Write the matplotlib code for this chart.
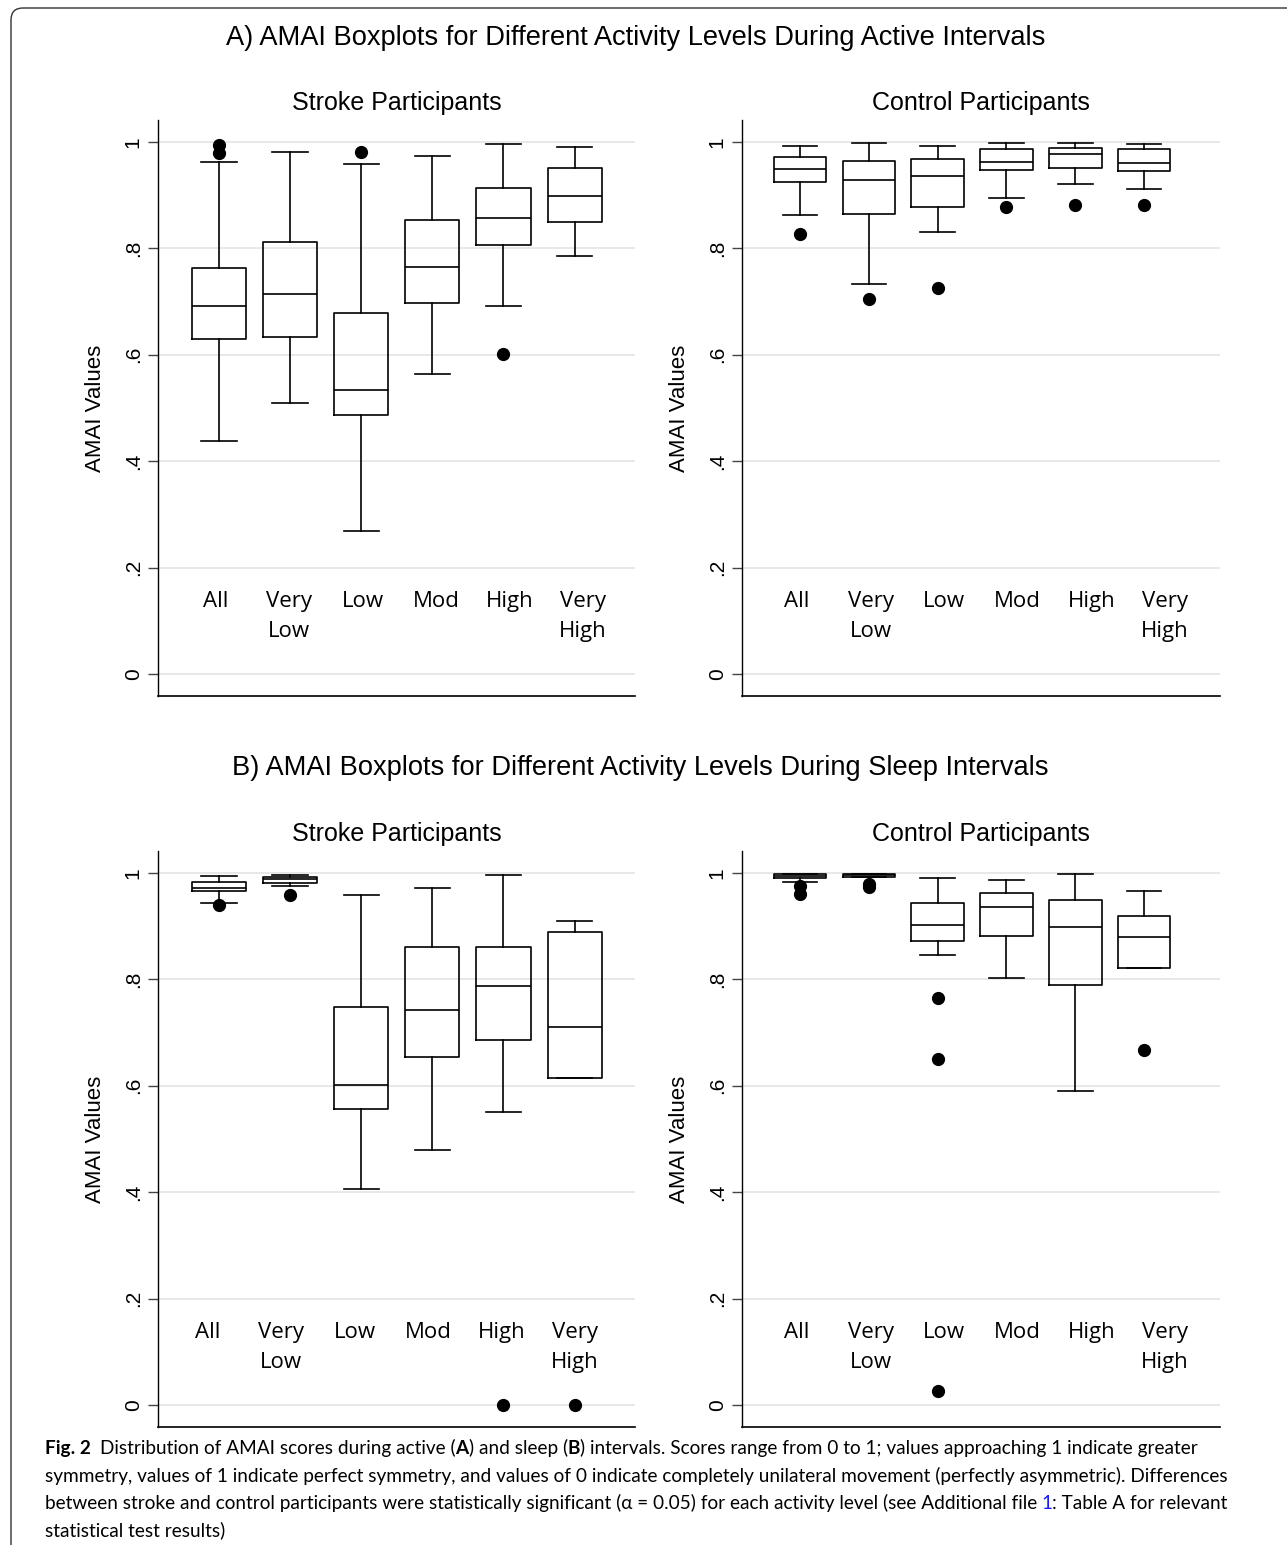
import matplotlib.pyplot as plt
from matplotlib.patches import FancyBboxPatch
import matplotlib.transforms as mtransforms

W, H = 1287, 1545

levels = ["All", "Very\nLow", "Low", "Mod", "High", "Very\nHigh"]

# each row: whisker low, q1, median, q3, whisker high
active_stroke = [
    [0.438, 0.630, 0.692, 0.764, 0.962],
    [0.509, 0.633, 0.715, 0.812, 0.982],
    [0.269, 0.487, 0.533, 0.678, 0.958],
    [0.564, 0.697, 0.765, 0.853, 0.974],
    [0.692, 0.807, 0.857, 0.914, 0.997],
    [0.786, 0.849, 0.899, 0.951, 0.991],
]
active_stroke_out = [[0.994, 0.979], [], [0.981], [], [0.602], []]

active_control = [
    [0.863, 0.925, 0.949, 0.971, 0.992],
    [0.734, 0.864, 0.929, 0.964, 0.998],
    [0.831, 0.877, 0.937, 0.968, 0.992],
    [0.894, 0.947, 0.962, 0.987, 0.999],
    [0.922, 0.952, 0.977, 0.989, 0.999],
    [0.912, 0.946, 0.960, 0.986, 0.996],
]
active_control_out = [[0.828], [0.705], [0.725], [0.877], [0.882], [0.882]]

sleep_stroke = [
    [0.944, 0.967, 0.972, 0.984, 0.994],
    [0.976, 0.982, 0.988, 0.993, 0.996],
    [0.406, 0.556, 0.601, 0.749, 0.959],
    [0.479, 0.655, 0.742, 0.860, 0.971],
    [0.551, 0.687, 0.788, 0.861, 0.996],
    [0.614, 0.614, 0.711, 0.889, 0.910],
]
sleep_stroke_out = [[0.940], [0.959], [], [], [0.0], [0.0]]

sleep_control = [
    [0.983, 0.990, 0.994, 0.998, 0.999],
    [0.992, 0.993, 0.996, 0.999, 0.999],
    [0.845, 0.873, 0.903, 0.944, 0.991],
    [0.803, 0.882, 0.937, 0.962, 0.987],
    [0.591, 0.790, 0.899, 0.949, 0.998],
    [0.822, 0.822, 0.879, 0.919, 0.967],
]
sleep_control_out = [[0.976, 0.960], [0.979, 0.973], [0.766, 0.650, 0.026], [], [], [0.667]]

yticks = [0, 0.2, 0.4, 0.6, 0.8, 1.0]
ytick_labels = ["0", ".2", ".4", ".6", ".8", "1"]

plt.rcParams['font.family'] = ['Liberation Sans', 'DejaVu Sans']

fig = plt.figure(figsize=(W / 100, H / 100), dpi=100)


def make_stats(box, out):
    stats = []
    for (lo, q1, med, q3, hi), fl in zip(box, out):
        stats.append(dict(whislo=lo, q1=q1, med=med, q3=q3, whishi=hi, fliers=fl))
    return stats


def draw_panel(rect, box, out, title, xlim, label_x0):
    ax = fig.add_axes(rect)
    line = dict(color='black', linewidth=1.2)
    ax.bxp(make_stats(box, out), positions=range(1, 7), widths=0.76, capwidths=0.5,
           boxprops=line, whiskerprops=line, capprops=line, medianprops=line,
           flierprops=dict(marker='o', markerfacecolor='black', markeredgecolor='black',
                           markersize=8.5, linestyle='none'))
    ax.set_xticks([])
    ax.set_xlim(*xlim)
    ax.set_ylim(-0.0414, 1.0414)
    ax.set_yticks(yticks)
    ax.set_yticklabels(ytick_labels, rotation=90, va='center', fontsize=15)
    ax.tick_params(axis='y', length=7, width=1, color='#444444', pad=4)
    ax.grid(axis='y', color='#e6e6e6', linewidth=1.3)
    ax.set_axisbelow(True)
    for s in ['top', 'right']:
        ax.spines[s].set_visible(False)
    ax.spines['left'].set_linewidth(1.0)
    ax.spines['bottom'].set_linewidth(1.2)
    ax.set_ylabel("AMAI Values", fontsize=16)
    ax.yaxis.set_label_coords(-0.108, 0.5)
    ax.set_title(title, fontsize=18, pad=7)
    trans = mtransforms.blended_transform_factory(ax.transAxes, ax.transData)
    for i, lab in enumerate(levels):
        for j, part in enumerate(lab.split("\n")):
            ax.text(label_x0 + i * 0.1539, 0.1265 - j * 0.0575, part, transform=trans,
                    ha='center', va='baseline', fontsize=16,
                    family=['Open Sans', 'DejaVu Sans'])
    return ax


top_b = 1 - 696 / H
bot_b = 1 - 1427 / H
hgt = 576 / H
draw_panel([158 / W, top_b, 477 / W, hgt], active_stroke, active_stroke_out,
           "Stroke Participants", (0.14, 6.85), 58 / 477)
draw_panel([742 / W, top_b, 478 / W, hgt], active_control, active_control_out,
           "Control Participants", (0.16, 7.10), 55 / 478)
draw_panel([158 / W, bot_b, 477 / W, hgt], sleep_stroke, sleep_stroke_out,
           "Stroke Participants", (0.14, 6.85), 50 / 477)
draw_panel([742 / W, bot_b, 478 / W, hgt], sleep_control, sleep_control_out,
           "Control Participants", (0.16, 7.10), 55 / 478)

fig.text(636 / W, 1 - 38 / H, "A) AMAI Boxplots for Different Activity Levels During Active Intervals",
         ha='center', va='center', fontsize=19.6)
fig.text(640 / W, 1 - 768 / H, "B) AMAI Boxplots for Different Activity Levels During Sleep Intervals",
         ha='center', va='center', fontsize=19.6)

# frame around the figure (only top and left edges visible)
frame = FancyBboxPatch((0.11, -1.0), 20, 15.37 + 1.0, boxstyle="round,pad=0,rounding_size=0.12",
                       transform=fig.dpi_scale_trans, facecolor='none', edgecolor='#333333',
                       linewidth=1.0)
fig.patches.append(frame)

# caption
renderer = fig.canvas.get_renderer()
caption = [
    [("Fig. 2", 'bold', 'black', 0),
     ("Distribution of AMAI scores during active (", 'normal', 'black', 9),
     ("A", 'bold', 'black', 0),
     (") and sleep (", 'normal', 'black', 0),
     ("B", 'bold', 'black', 0),
     (") intervals. Scores range from 0 to 1; values approaching 1 indicate greater", 'normal', 'black', 0)],
    [("symmetry, values of 1 indicate perfect symmetry, and values of 0 indicate completely "
      "unilateral movement (perfectly asymmetric). Differences", 'normal', 'black', 0)],
    [("between stroke and control participants were statistically significant (\u03b1 = 0.05) "
      "for each activity level (see Additional file", 'normal', 'black', 0),
     ("1", 'normal', '#1a1aff', 4),
     (": Table A for relevant", 'normal', 'black', 0)],
    [("statistical test results)", 'normal', 'black', 0)],
]
baselines = [1454, 1482, 1509, 1536]


def caption_line(yb, parts, size):
    x = 45
    texts = []
    for text, weight, color, gap in parts:
        x += gap
        t = fig.text(x / W, 1 - yb / H, text, fontweight=weight, color=color, fontsize=size,
                     family=['Lato', 'Open Sans', 'DejaVu Sans'], va='baseline')
        x = t.get_window_extent(renderer).x1
        texts.append(t)
    return texts, x


# fit the first caption line to the width it has in the original
probe, end = caption_line(baselines[0], caption[0], 15)
for t in probe:
    t.remove()
cap_size = 15 * (1200 - 45) / (end - 45)
for yb, parts in zip(baselines, caption):
    caption_line(yb, parts, cap_size)

fig.savefig("out.png", dpi=100)
